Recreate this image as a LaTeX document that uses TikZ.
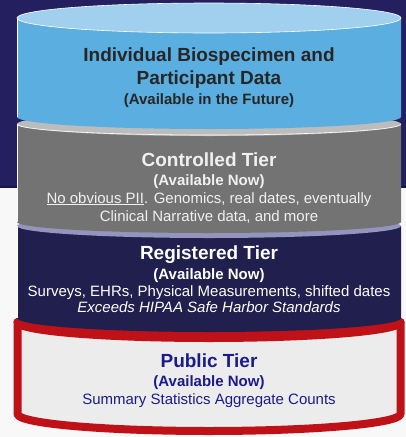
\documentclass[tikz,border=0pt]{standalone}
\usepackage{fontspec}
\setmainfont{Liberation Sans}
\usepackage{xcolor}
\usepackage{tikz}
\usetikzlibrary{positioning}
\definecolor{bgnavy}{RGB}{36,31,94}
\definecolor{bgline}{RGB}{24,22,70}
\definecolor{bglight}{RGB}{248,248,248}
\definecolor{bioblue}{RGB}{91,174,224}
\definecolor{biotop}{RGB}{160,208,238}
\definecolor{ctlgray}{RGB}{115,115,115}
\definecolor{ctlrim}{RGB}{188,188,188}
\definecolor{regnavy}{RGB}{33,31,78}
\definecolor{regrim}{RGB}{148,148,188}
\definecolor{pubfill}{RGB}{236,236,236}
\definecolor{pubred}{RGB}{190,18,24}
\definecolor{pubtext}{RGB}{27,27,138}
\newcommand{\headfont}{\fontsize{19}{22}\selectfont\bfseries}
\newcommand{\subfont}{\fontsize{15}{18}\selectfont\bfseries}
\newcommand{\bodyfont}{\fontsize{15}{18}\selectfont}
\tikzstyle{head}=[anchor=base,inner sep=0pt,font=\headfont]
\tikzstyle{sub}=[anchor=base,inner sep=0pt,font=\subfont]
\tikzstyle{body}=[anchor=base,inner sep=0pt,font=\bodyfont]

\begin{document}
\begin{tikzpicture}[x=1pt,y=1pt]
\useasboundingbox (0,0) rectangle (406,-437);
%background
\fill[bgnavy] (0,0) rectangle (406,-187);
\fill[bglight] (0,-187) rectangle (406,-437);
\draw[bgline, line width=1.5pt] (0,-187) -- (406,-187);

%public tier
\fill[pubred] (209,-322) ellipse[x radius=195.5, y radius=20];
\draw[pubred, line width=8pt, line join=round, fill=pubfill] (17.5,-322) -- (17.5,-414)
  arc[start angle=180, end angle=360, x radius=191.5, y radius=17] -- (400.5,-322)
  arc[start angle=360, end angle=180, x radius=191.5, y radius=16] -- cycle;

%registered tier
\fill[regnavy] (17,-226) -- (17,-318) arc[start angle=180, end angle=360, x radius=192, y radius=14] -- (401,-226) -- cycle;
\fill[regrim] (209,-226) ellipse[x radius=192, y radius=12];
\draw[white!70, line width=0.5pt] (17,-226) -- (17,-318);

%controlled tier
\fill[ctlgray] (17,-124) -- (17,-222) arc[start angle=180, end angle=360, x radius=192, y radius=11] -- (401,-124) -- cycle;
\fill[ctlrim] (209,-124) ellipse[x radius=192, y radius=12];
\draw[white, line width=0.6pt] (17,-124) arc[start angle=180, end angle=360, x radius=192, y radius=11];
\draw[white!70, line width=0.5pt] (17,-124) -- (17,-222);

%biospecimen tier
\fill[bioblue] (17,-18) -- (17,-117) arc[start angle=180, end angle=360, x radius=192, y radius=12] -- (401,-18) -- cycle;
\draw[white!70, line width=0.5pt] (17,-18) -- (17,-117);
\draw[white, line width=0.6pt, fill=biotop] (209,-18) ellipse[x radius=192, y radius=15];

%texts
\node[head, text=black!85] (bioA) at (209,-61) {Individual Biospecimen and};
\node[head, text=black!85] (bioB) at (209,-84) {Participant Data};
\node[sub, text=black!85] (bioC) at (209,-104) {(Available in the Future)};

\node[head, text=white!94!black] (ctlA) at (209,-166) {Controlled Tier};
\node[sub, text=white!94!black] (ctlB) at (209,-185) {(Available Now)};
\node[body, text=white!94!black] (ctlC) at (209,-203) {\underline{No obvious PII}. Genomics, real dates, eventually};
\node[body, text=white!94!black] (ctlD) at (209,-221) {Clinical Narrative data, and more};

\node[head, text=white] (regA) at (209,-259) {Registered Tier};
\node[sub, text=white] (regB) at (209,-279) {(Available Now)};
\node[body, text=white] (regC) at (209,-296) {Surveys, EHRs, Physical Measurements, shifted dates};
\node[body, text=white] (regD) at (209,-312) {\itshape Exceeds HIPAA Safe Harbor Standards};

\node[head, text=pubtext] (pubA) at (209,-367) {Public Tier};
\node[sub, text=pubtext] (pubB) at (209,-386) {(Available Now)};
\node[body, text=pubtext] (pubC) at (209,-404) {Summary Statistics Aggregate Counts};
\end{tikzpicture}
\end{document}
